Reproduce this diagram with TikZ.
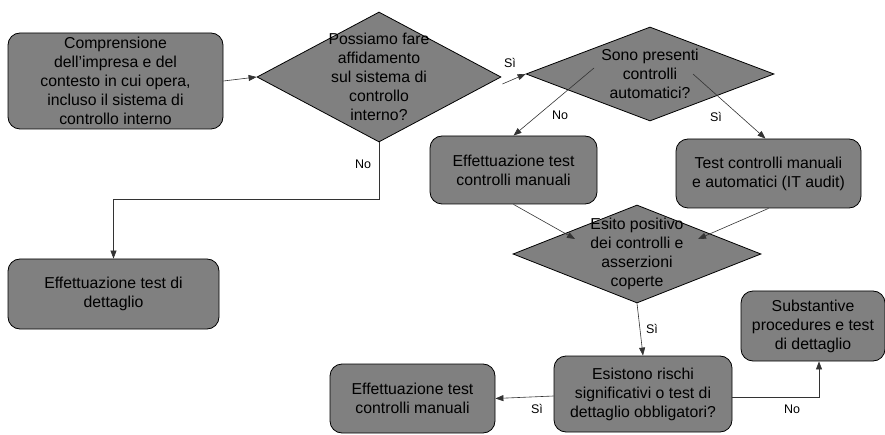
\documentclass[tikz,border=0pt]{standalone}
\usepackage{fontspec}
\setmainfont{Liberation Sans}
\usetikzlibrary{arrows.meta,shapes.geometric}
\tikzset{
  boxstyle/.style={draw=black, line width=0.8pt, fill=boxgray, rounded corners=12pt,
    align=center, inner sep=0pt, font=\fontsize{15.8}{19}\selectfont},
  decision/.style={draw=black, line width=0.8pt, fill=boxgray, diamond, inner sep=0pt},
  dtext/.style={align=center, inner sep=0pt, font=\fontsize{15.8}{19}\selectfont},
  flow/.style={draw=black!80, line width=0.6pt, -{Triangle[length=8pt,width=6pt]}},
  lab/.style={inner sep=0pt, font=\fontsize{12.5}{15}\selectfont}
}
\definecolor{boxgray}{RGB}{128,128,128}
\begin{document}
\begin{tikzpicture}[x=1pt,y=-1pt]
\useasboundingbox (0,0) rectangle (885,435);

% process boxes
\node[boxstyle, minimum width=215pt, minimum height=96pt] (a) at (115.5,81)
  {Comprensione\\dell’impresa e del\\contesto in cui opera,\\incluso il sistema di\\controllo interno};
\node[boxstyle, minimum width=167pt, minimum height=68pt] (b) at (513.5,170)
  {Effettuazione test\\controlli manuali};
\node[boxstyle, minimum width=185pt, minimum height=69pt] (c) at (768.5,173.5)
  {Test controlli manuali\\e automatici (IT audit)};
\node[boxstyle, minimum width=211pt, minimum height=70pt] (h) at (113.5,294)
  {Effettuazione test di\\dettaglio};
\node[boxstyle, minimum width=178pt, minimum height=76pt] (e) at (643,394)
  {Esistono rischi\\significativi o test di\\dettaglio obbligatori?};
\node[boxstyle, minimum width=144pt, minimum height=70pt] (f) at (813,326)
  {Substantive\\procedures e test\\di dettaglio};
\node[boxstyle, minimum width=165pt, minimum height=69pt] (g) at (412.5,398.5)
  {Effettuazione test\\controlli manuali};

% decisions
\node[decision, minimum width=244pt, minimum height=130pt,
  label={[dtext]center:{Possiamo fare\\affidamento\\sul sistema di\\controllo\\interno?}}] (d1) at (379,77) {};
\node[decision, minimum width=248pt, minimum height=94pt,
  label={[dtext]center:{Sono presenti\\controlli\\automatici?}}] (d2) at (650,74) {};
\node[decision, minimum width=248pt, minimum height=98pt,
  label={[dtext]center:{Esito positivo\\dei controlli e\\asserzioni\\coperte}}] (d3) at (637,254) {};

% connectors
\draw[flow] (a.east) -- (d1.west);
\draw[flow] ([shift={(1,7)}]d1.east) -- (d2.west);
\draw[flow] (d1.south) -- ++(0,57) -| (h.north);
\draw[flow] ([shift={(-56,-6)}]d2.center) -- (b.north);
\draw[flow] ([shift={(43,0)}]d2.center) -- ([xshift=-3pt]c.north);
\draw[flow] (b.south) -- ([shift={(-62,-15)}]d3.center);
\draw[flow] (c.south) -- ([shift={(61,-15)}]d3.center);
\draw[flow] (d3.south) -- (e.north);
\draw[flow] ([shift={(0,2)}]e.west) -- (g.east);
\draw[flow] ([shift={(0,3)}]e.east) -| ([xshift=6pt]f.south);

% branch labels
\node[lab] (l1) at (510,63) {Sì};
\node[lab] (l2) at (363,164) {No};
\node[lab] (l3) at (560,115) {No};
\node[lab] (l4) at (716,117) {Sì};
\node[lab] (l5) at (652,329) {Sì};
\node[lab] (l6) at (537,409) {Sì};
\node[lab] (l7) at (792,409) {No};
\end{tikzpicture}
\end{document}
